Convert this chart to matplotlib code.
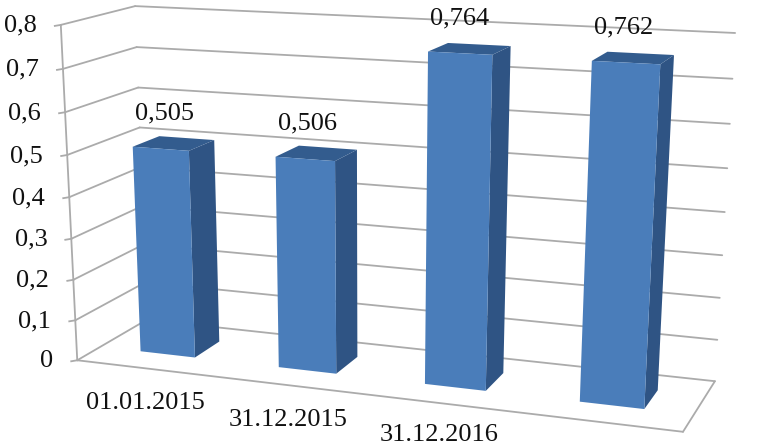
import matplotlib
matplotlib.use('Agg')
import matplotlib.pyplot as plt
from matplotlib.patches import Polygon
import numpy as np

plt.rcParams['font.family'] = ['Liberation Serif', 'DejaVu Serif']

# chart data
bar_values = [0.505, 0.506, 0.764, 0.762]
bar_labels = ['0,505', '0,506', '0,764', '0,762']
date_labels = ['01.01.2015', '31.12.2015', '31.12.2016']
y_ticks = [0, 0.1, 0.2, 0.3, 0.4, 0.5, 0.6, 0.7, 0.8]
y_labels = ['0', '0,1', '0,2', '0,3', '0,4', '0,5', '0,6', '0,7', '0,8']

# colours
grid_color = '#ABABAB'
front_color = '#4A7DBA'
side_color = '#2F5484'
top_color = '#335C8E'

# box corners: (category, depth, value) -> pixel, used to fit the perspective
n_cat = len(bar_values)
corners = [
    ((0, 0, 0), (78, 360)),
    ((n_cat, 0, 0), (683, 432)),
    ((0, 1, 0), (146, 320)),
    ((n_cat, 1, 0), (715, 381)),
    ((0, 0, 0.8), (60, 25)),
    ((0, 1, 0.8), (136, 6)),
    ((n_cat, 1, 0.8), (735, 33)),
]


def fit_camera(pairs):
    rows = []
    for (x, d, v), (px, py) in pairs:
        v = v * 5
        rows.append([x, d, v, 1, 0, 0, 0, 0, -px * x, -px * d, -px * v, -px])
        rows.append([0, 0, 0, 0, x, d, v, 1, -py * x, -py * d, -py * v, -py])
    return np.linalg.svd(np.array(rows, dtype=float))[2][-1].reshape(3, 4)


camera = fit_camera(corners)


def project(x, d, v):
    p = camera @ np.array([x, d, v * 5, 1.0])
    return p[0] / p[2], p[1] / p[2]


fig = plt.figure(figsize=(7.58, 4.46), dpi=100)
ax = fig.add_axes([0, 0, 1, 1])
ax.set_xlim(0, 758)
ax.set_ylim(446, 0)
ax.axis('off')


def line(a, b, **kw):
    pa = project(*a)
    pb = project(*b)
    ax.plot([pa[0], pb[0]], [pa[1], pb[1]], color=grid_color, lw=1.3, solid_capstyle='round', **kw)


# grid on the side wall and back wall
for t, lab in zip(y_ticks, y_labels):
    line((0, 0, t), (0, 1, t))
    line((0, 1, t), (n_cat, 1, t))
    px, py = project(0, 0, t)
    ax.plot([px - 6, px], [py + 1, py], color=grid_color, lw=1.3)
    ax.text(px - 24, py + 1, lab, ha='right', va='center', fontsize=19, color='#111111')

# box edges
line((0, 0, 0), (0, 0, 0.8))
line((0, 0, 0), (n_cat, 0, 0))
line((n_cat, 0, 0), (n_cat, 1, 0))

# bars
bar_width = 0.4
d0, d1 = 0.32, 0.7
for i, val in enumerate(bar_values):
    x0 = i + 0.5 - bar_width / 2
    x1 = i + 0.5 + bar_width / 2
    side = [project(x1, d0, 0), project(x1, d1, 0), project(x1, d1, val), project(x1, d0, val)]
    top = [project(x0, d0, val), project(x1, d0, val), project(x1, d1, val), project(x0, d1, val)]
    front = [project(x0, d0, 0), project(x1, d0, 0), project(x1, d0, val), project(x0, d0, val)]
    ax.add_patch(Polygon(side, facecolor=side_color, edgecolor='none', zorder=3))
    ax.add_patch(Polygon(top, facecolor=top_color, edgecolor='none', zorder=3))
    ax.add_patch(Polygon(front, facecolor=front_color, edgecolor='none', zorder=4))
    px, py = project(x0, d0, val)
    ax.text(px + 32, py - 33, bar_labels[i], ha='center', va='center', fontsize=19, color='#111111', zorder=5)

# category labels, the fourth one falls outside the picture
for i, lab in enumerate(date_labels):
    px, py = project(i + 0.5, 0, 0)
    ax.text(px, min(py + 41, 441), lab, ha='center', va='baseline', fontsize=19, color='#111111')

fig.savefig('out.png', dpi=100)
